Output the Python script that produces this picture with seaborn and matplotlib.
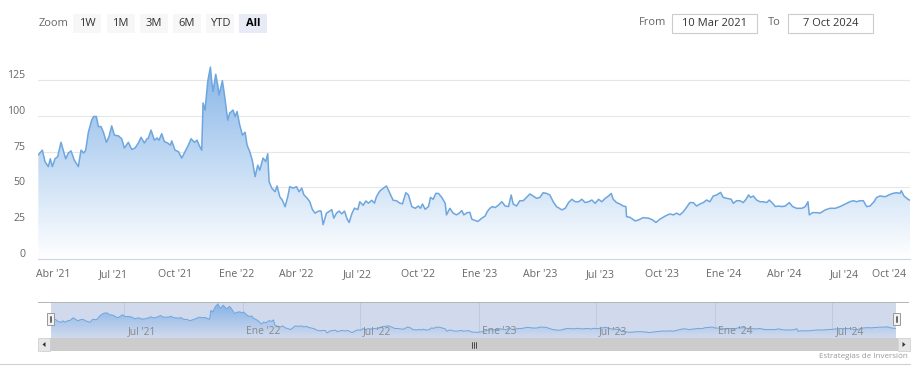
import numpy as np
import pandas as pd
import matplotlib
matplotlib.use("Agg")
import matplotlib.pyplot as plt
import matplotlib.dates as mdates
import seaborn as sns
from matplotlib.colors import LinearSegmentedColormap
from matplotlib.patches import Rectangle, PathPatch, Polygon
from matplotlib.transforms import blended_transform_factory, ScaledTranslation

# ---------------- data ----------------
start_date = "2021-03-10"
end_date = "2024-10-07"
day_offsets = [
    0, 6, 10, 15, 18, 21, 25, 29, 34, 38, 41, 45, 49, 54, 60, 64, 68, 71, 75, 80,
    83, 87, 90, 94, 98, 102, 106, 110, 114, 120, 125, 129, 135, 140, 145, 150, 154, 159, 163, 165,
    169, 174, 178, 181, 185, 189, 194, 198, 200, 205, 210, 215, 220, 225, 229, 234, 238, 241, 245, 247,
    250, 254, 258, 260, 262, 266, 269, 271, 276, 279, 284, 287, 292, 295, 298, 302, 306, 310, 313, 317,
    321, 325, 329, 332, 337, 341, 344, 346, 350, 355, 358, 362, 366, 370, 374, 377, 382, 387, 391, 395,
    398, 403, 407, 411, 415, 420, 424, 427, 432, 437, 440, 443, 447, 451, 455, 459, 463, 466, 470, 474,
    479, 482, 487, 491, 495, 500, 504, 507, 512, 517, 522, 527, 532, 537, 542, 546, 551, 555, 560, 565,
    570, 573, 576, 580, 585, 588, 592, 596, 600, 605, 610, 612, 617, 622, 627, 631, 635, 638, 643, 647,
    650, 655, 659, 665, 670, 673, 677, 681, 685, 690, 695, 700, 705, 709, 712, 717, 722, 727, 732, 737,
    742, 747, 752, 757, 762, 767, 772, 777, 785, 790, 795, 800, 805, 810, 815, 820, 825, 830, 835, 840,
    845, 850, 855, 859, 862, 867, 872, 877, 881, 882, 887, 895, 900, 907, 915, 921, 926, 932, 940, 947,
    952, 957, 962, 967, 972, 977, 982, 987, 992, 997, 1002, 1007, 1012, 1017, 1023, 1027, 1032, 1039, 1042, 1047,
    1052, 1057, 1061, 1065, 1068, 1072, 1077, 1082, 1087, 1092, 1096, 1101, 1105, 1110, 1115, 1120, 1126, 1131, 1137, 1145,
    1150, 1154, 1156, 1161, 1167, 1172, 1180, 1187, 1195, 1202, 1210, 1217, 1222, 1227, 1232, 1237, 1242, 1247, 1253, 1257,
    1262, 1270, 1275, 1281, 1287, 1292, 1294, 1298, 1304, 1307,
]
prices = [
    72.7, 76, 68, 64.5, 70, 64.5, 70, 71.5, 81.5, 75, 70, 74, 75.5, 69, 64.5, 76, 74, 76, 88.5, 97,
    99.5, 99.5, 92.5, 92.5, 88, 81.5, 85.5, 93, 86.5, 86, 84, 77.5, 81.5, 76.5, 77.5, 81, 85, 81, 84, 84.5,
    90, 83, 84.5, 83, 87.5, 82, 81, 79.5, 82.5, 76, 75, 70.5, 75, 79.5, 84, 81.5, 83, 79.5, 76, 109,
    104, 124, 134, 124, 117, 129, 121.5, 114.5, 124.5, 115, 97, 102, 104, 99.5, 103, 93.5, 86.5, 88.5, 79.5, 75,
    68.5, 57.5, 65.5, 62, 70.5, 68, 73.5, 54, 49.5, 47, 51, 43.5, 41, 36.5, 43.5, 50.5, 49.5, 50.5, 47, 49.5,
    45, 42.5, 40, 34.5, 32, 33.5, 33.5, 24, 32, 33.5, 34.5, 28.5, 32, 33.5, 31.5, 33.5, 28, 25.5, 31.5, 35.5,
    34.5, 40, 37.5, 40.5, 39, 41, 39, 43.5, 47.5, 49.3, 51, 46, 41, 40.7, 39, 38.5, 46.3, 44.7, 36.6, 35.4,
    37, 35.4, 38.4, 34.7, 36.6, 43, 41.7, 45.8, 45.8, 43, 39, 30.8, 35.4, 32, 30.8, 32, 33.8, 30.8, 32.4, 32.6,
    27.8, 26.9, 26.2, 28.5, 30, 33, 35.4, 36.6, 35.9, 37.7, 40, 37, 36.6, 44.7, 38.4, 37, 40.7, 40.7, 43, 45.4,
    44, 42.4, 43, 46.3, 45.8, 44.7, 40, 36.6, 34.3, 35.4, 39.4, 41.7, 40, 40, 41.7, 39.4, 40, 41.2, 38.9, 41.7,
    40, 42.4, 44, 45.8, 41.7, 39.4, 38.4, 37, 36.6, 29.6, 29.1, 26.6, 27.3, 28.9, 28.5, 27.3, 25.5, 27.8, 30, 31.5,
    30.8, 32, 30.8, 33, 36.1, 39.4, 39.4, 37, 38.4, 39.4, 41.2, 40, 44, 44.7, 46.5, 43, 42.4, 41.7, 38.9, 40.7,
    40.7, 39.4, 41.7, 44.7, 43, 44, 41.2, 40, 40, 39.4, 41.2, 38.9, 36.6, 37, 36.6, 37, 39.4, 36.6, 35.4, 35.4,
    36.6, 40, 30.8, 32.4, 32.4, 32, 34.3, 35.4, 35.4, 36.6, 38.4, 40, 40.7, 40, 40.7, 40.7, 36.6, 37, 40, 43,
    44, 43.5, 44.7, 45.8, 46.3, 45.8, 47.7, 44, 41.7, 41,
]
y_ticks = [0, 25, 50, 75, 100, 125]
x_tick_dates = ["2021-04-01", "2021-07-01", "2021-10-01", "2022-01-01", "2022-04-01",
                "2022-07-01", "2022-10-01", "2023-01-01", "2023-04-01", "2023-07-01",
                "2023-10-01", "2024-01-01", "2024-04-01", "2024-07-01", "2024-10-01"]
x_tick_labels = ["Abr '21", "Jul '21", "Oct '21", "Ene '22", "Abr '22",
                 "Jul '22", "Oct '22", "Ene '23", "Abr '23", "Jul '23",
                 "Oct '23", "Ene '24", "Abr '24", "Jul '24", "Oct '24"]
nav_tick_dates = ["2021-07-01", "2022-01-01", "2022-07-01", "2023-01-01",
                  "2023-07-01", "2024-01-01", "2024-07-01"]
nav_tick_labels = ["Jul '21", "Ene '22", "Jul '22", "Ene '23", "Jul '23", "Ene '24", "Jul '24"]
zoom_buttons = ["1W", "1M", "3M", "6M", "YTD", "All"]
selected_button = "All"
from_text = "10 Mar 2021"
to_text = "7 Oct 2024"
credit_text = "Estrategias de Inversión"

# ---------------- style ----------------
sns.set_style("white")
plt.rcParams['font.family'] = ['Open Sans', 'DejaVu Sans']

W, H = 919, 377
fig = plt.figure(figsize=(W / 100, H / 100), dpi=100)
fig.patch.set_facecolor("white")


def rect(x0, y0, x1, y1):
    return [x0 / W, 1 - y1 / H, (x1 - x0) / W, (y1 - y0) / H]


start = pd.Timestamp(start_date)
end = pd.Timestamp(end_date)
df = pd.DataFrame({"date": start + pd.to_timedelta(day_offsets, unit="D"), "price": prices})
xnum = mdates.date2num(df["date"])

line_color = "#6ea6de"
label_color = "#666666"

# ---------------- main chart ----------------
ax = fig.add_axes(rect(38.33, 44.2, 910, 259))
ymax = 150
cmap = LinearSegmentedColormap.from_list("grad", ["#ffffff", "#7aaee6"])
grad = np.linspace(0, 1, 256).reshape(-1, 1)
x0n, x1n = mdates.date2num(start), mdates.date2num(end)
im = ax.imshow(grad, extent=[x0n, x1n, 0, ymax], aspect="auto", origin="lower",
               cmap=cmap, zorder=1, interpolation="bilinear")
poly = ax.fill_between(xnum, df["price"], 0, facecolor="none", edgecolor="none")
clip = PathPatch(poly.get_paths()[0], transform=ax.transData, facecolor="none", edgecolor="none")
ax.add_patch(clip)
im.set_clip_path(clip)
sns.lineplot(x=xnum, y=df["price"], ax=ax, color=line_color, linewidth=1.1, zorder=3)
ax.set_xlim(x0n, x1n)
ax.set_ylim(0, ymax)
ax.set_xlabel("")
ax.set_ylabel("")
for v in y_ticks:
    ax.axhline(v, color="#e6e6e6", lw=0.8, zorder=0.5)
ax.set_yticks([])
ytr = blended_transform_factory(ax.transAxes, ax.transData) + ScaledTranslation(-0.133, 0.045, fig.dpi_scale_trans)
for v in y_ticks:
    ax.text(0, v, str(v), transform=ytr, ha="right", va="center", fontsize=7.6, color=label_color)
ax.set_xticks(mdates.date2num(pd.to_datetime(x_tick_dates)))
ax.set_xticklabels(x_tick_labels)
ax.tick_params(axis="x", length=4.5, width=0.8, color="#ccd6eb", pad=2.5, labelsize=7.6,
               labelcolor=label_color, direction="out")
# last label kept inside the chart, aligned to its tick like the reference
ax.get_xticklabels()[-1].set_horizontalalignment("right")
for s in ["top", "left", "right"]:
    ax.spines[s].set_visible(False)
ax.spines["bottom"].set_color("#ccd6eb")
ax.spines["bottom"].set_linewidth(0.8)
ax.spines["bottom"].set_zorder(4)
ax.patch.set_alpha(0)

# ---------------- navigator ----------------
nav = fig.add_axes(rect(38, 302, 908, 338))
px_per_day = 0.646
nav_left = mdates.date2num(start) - (51.3 - 38) / px_per_day
nav_right = mdates.date2num(start) + (908 - 51.3) / px_per_day
nav.axvspan(x0n, x1n, color="#d1daed", zorder=0, lw=0)
for d in pd.to_datetime(nav_tick_dates):
    nav.axvline(mdates.date2num(d), color="#bdc7da", lw=0.6, zorder=0.5)
ncmap = LinearSegmentedColormap.from_list("ngrad", ["#d1daed", "#80b0e6"])
nim = nav.imshow(grad, extent=[x0n, x1n, 5, 141], aspect="auto", origin="lower",
                 cmap=ncmap, zorder=1, interpolation="bilinear")
npoly = nav.fill_between(xnum, df["price"], 0, facecolor="none", edgecolor="none")
nclip = PathPatch(npoly.get_paths()[0], transform=nav.transData, facecolor="none", edgecolor="none")
nav.add_patch(nclip)
nim.set_clip_path(nclip)
sns.lineplot(x=xnum, y=df["price"], ax=nav, color=line_color, linewidth=0.7, zorder=3)
nav.set_xlim(nav_left, nav_right)
nav.set_ylim(5, 141)
nav.set_xticks([])
nav.set_yticks([])
nav.set_xlabel("")
nav.set_ylabel("")
for s in ["bottom", "left", "right"]:
    nav.spines[s].set_visible(False)
nav.spines["top"].set_color("#b3b3b3")
nav.spines["top"].set_linewidth(0.7)
ntr = blended_transform_factory(nav.transData, nav.transAxes) + ScaledTranslation(0.03, 0, fig.dpi_scale_trans)
for d, lab in zip(pd.to_datetime(nav_tick_dates), nav_tick_labels):
    nav.text(mdates.date2num(d), 0.19, lab, transform=ntr, ha="left", va="center",
             fontsize=7.4, color="#888888", zorder=4)

# ---------------- overlay (buttons, scrollbar, credits) ----------------
ov = fig.add_axes([0, 0, 1, 1], zorder=10)
ov.set_xlim(0, W)
ov.set_ylim(H, 0)
ov.axis("off")
ov.patch.set_alpha(0)

ov.text(38.5, 23, "Zoom", ha="left", va="center", fontsize=8, color="#666666")
bx = [73, 106.5, 139.5, 173, 206, 239]
for x, lab in zip(bx, zoom_buttons):
    sel = lab == selected_button
    ov.add_patch(Rectangle((x, 13.5), 28, 19.5, facecolor="#e6ebf5" if sel else "#f7f7f7",
                           edgecolor="none"))
    ov.text(x + 14, 23.2, lab, ha="center", va="center", fontsize=8,
            color="#000000" if sel else "#333333", fontweight="bold" if sel else "normal")

ov.text(639, 22.5, "From", ha="left", va="center", fontsize=8, color="#666666")
ov.add_patch(Rectangle((672, 13.5), 85, 19, facecolor="white", edgecolor="#cccccc", lw=0.8))
ov.text(714.5, 23, from_text, ha="center", va="center", fontsize=8, color="#333333")
ov.text(768, 22.5, "To", ha="left", va="center", fontsize=8, color="#666666")
ov.add_patch(Rectangle((788, 13.5), 85, 19, facecolor="white", edgecolor="#cccccc", lw=0.8))
ov.text(830.5, 23, to_text, ha="center", va="center", fontsize=8, color="#333333")

# scrollbar
ov.add_patch(Rectangle((38, 338), 872, 13, facecolor="#f2f2f2", edgecolor="none"))
ov.add_patch(Rectangle((50, 338), 848, 13, facecolor="#cccccc", edgecolor="none"))
ov.add_patch(Rectangle((38, 338), 12, 13, facecolor="#e6e6e6", edgecolor="#cccccc", lw=0.5))
ov.add_patch(Rectangle((898, 338), 12, 13, facecolor="#e6e6e6", edgecolor="#cccccc", lw=0.5))
ov.add_patch(Polygon([[42.5, 344.5], [45.5, 342], [45.5, 347]], closed=True, facecolor="#333333", edgecolor="none"))
ov.add_patch(Polygon([[905.5, 344.5], [902.5, 342], [902.5, 347]], closed=True, facecolor="#333333", edgecolor="none"))
for gx in [471.5, 473.5, 475.5]:
    ov.plot([gx, gx], [342, 347.5], color="#333333", lw=0.6)

# navigator handles
for hx in [47, 893]:
    ov.add_patch(Rectangle((hx, 312.5), 7, 12.5, facecolor="#f2f2f2", edgecolor="#999999", lw=0.7))
    ov.plot([hx + 2.6, hx + 2.6], [315.5, 322], color="#333333", lw=0.5)
    ov.plot([hx + 4.4, hx + 4.4], [315.5, 322], color="#333333", lw=0.5)

ov.text(908, 357, credit_text, ha="right", va="center", fontsize=5.8, color="#999999")
ov.plot([0, 910], [364, 364], color="#d0d0d0", lw=0.8)

fig.savefig("out.png", dpi=100, facecolor="white")
